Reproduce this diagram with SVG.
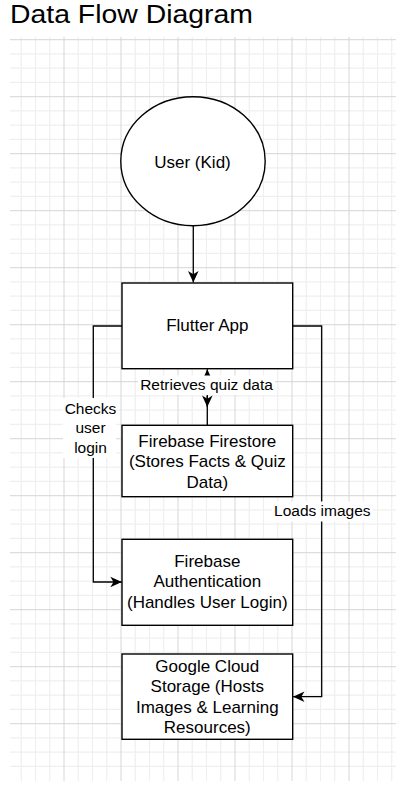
<svg xmlns="http://www.w3.org/2000/svg" width="412" height="795" viewBox="0 0 412 795">
<style>
  .minor { stroke: #efefef; stroke-width: 1.2; fill: none; }
  .major { stroke: #d6d6d6; stroke-width: 1; fill: none; }
  .shape { fill: #ffffff; stroke: #000000; stroke-width: 1.4; }
  .edge { fill: none; stroke: #000000; stroke-width: 1.3; }
  .node-text { font-family: "Liberation Sans", Arial, Helvetica, sans-serif; font-size: 17px; fill: #000000; text-anchor: middle; }
  .edge-text { font-family: "Liberation Sans", Arial, Helvetica, sans-serif; font-size: 15.5px; fill: #000000; text-anchor: middle; }
  .label-bg { fill: #ffffff; stroke: none; }
</style>
<defs>
  <marker id="arrow" viewBox="-12 -6 13 12" refX="0" refY="0" markerWidth="13" markerHeight="12" markerUnits="userSpaceOnUse" orient="auto">
    <path d="M0,0 L-11.5,-5.3 L-8.3,0 L-11.5,5.3 Z" fill="#000000"/>
  </marker>
</defs>
<rect x="0" y="0" width="412" height="795" fill="#ffffff"/>
<g id="title">
  <text x="10" y="23.4" font-family="'Liberation Sans', Arial, Helvetica, sans-serif" font-size="25.5" fill="#000000" textLength="243" lengthAdjust="spacingAndGlyphs">Data Flow Diagram</text>
</g>
<g id="grid">
  <path class="minor" d="M21.25,37V781 M35.5,37V781 M49.75,37V781 M78.25,37V781 M92.5,37V781 M106.75,37V781 M135.25,37V781 M149.5,37V781 M163.75,37V781 M192.25,37V781 M206.5,37V781 M220.75,37V781 M249.25,37V781 M263.5,37V781 M277.75,37V781 M306.25,37V781 M320.5,37V781 M334.75,37V781 M363.25,37V781 M377.5,37V781 M391.75,37V781"/>
  <path class="minor" d="M10,53.95H396 M10,68.2H396 M10,82.45H396 M10,110.95H396 M10,125.2H396 M10,139.45H396 M10,167.95H396 M10,182.2H396 M10,196.45H396 M10,224.95H396 M10,239.2H396 M10,253.45H396 M10,281.95H396 M10,296.2H396 M10,310.45H396 M10,338.95H396 M10,353.2H396 M10,367.45H396 M10,395.95H396 M10,410.2H396 M10,424.45H396 M10,452.95H396 M10,467.2H396 M10,481.45H396 M10,509.95H396 M10,524.2H396 M10,538.45H396 M10,566.95H396 M10,581.2H396 M10,595.45H396 M10,623.95H396 M10,638.2H396 M10,652.45H396 M10,680.95H396 M10,695.2H396 M10,709.45H396 M10,737.95H396 M10,752.2H396 M10,766.45H396"/>
  <path class="major" d="M64,37V781 M121,37V781 M178,37V781 M235,37V781 M292,37V781 M349,37V781"/>
  <path class="major" d="M10,39.7H396 M10,96.7H396 M10,153.7H396 M10,210.7H396 M10,267.7H396 M10,324.7H396 M10,381.7H396 M10,438.7H396 M10,495.7H396 M10,552.7H396 M10,609.7H396 M10,666.7H396 M10,723.7H396"/>
</g>
<g id="connectors">
  <path class="edge" d="M193.3,225.7 L193.3,282.5" marker-end="url(#arrow)"/>
  <path class="edge" d="M207.3,425.3 L207.3,369.3" marker-end="url(#arrow)"/>
  <path class="edge" d="M207.3,396 L207.3,407" marker-end="url(#arrow)"/>
  <path class="edge" d="M122,326 L93.3,326 L93.3,582 L121.8,582" marker-end="url(#arrow)"/>
  <path class="edge" d="M292.7,326 L321.7,326 L321.7,696.7 L293,696.7" marker-end="url(#arrow)"/>
</g>
<g id="edge-labels">
  <rect class="label-bg" x="138" y="375.5" width="137" height="19.5"/>
  <text class="edge-text" x="206.5" y="390">Retrieves quiz data</text>
  <rect class="label-bg" x="63" y="398" width="53" height="60"/>
  <text class="edge-text" x="90.5" y="414">Checks</text>
  <text class="edge-text" x="90.5" y="433.3">user</text>
  <text class="edge-text" x="90.5" y="452.6">login</text>
  <rect class="label-bg" x="272" y="501.5" width="101" height="20"/>
  <text class="edge-text" x="322.3" y="516">Loads images</text>
</g>
<g id="user-kid">
  <ellipse class="shape" cx="193" cy="161.2" rx="72.2" ry="64.5"/>
  <text class="node-text" x="192.5" y="168">User (Kid)</text>
</g>
<g id="flutter-app">
  <rect class="shape" x="122" y="283" width="170.7" height="85.7"/>
  <text class="node-text" x="207.3" y="331">Flutter App</text>
</g>
<g id="firebase-firestore">
  <rect class="shape" x="122" y="425.3" width="170.7" height="71.4"/>
  <text class="node-text" x="207.3" y="446.7">Firebase Firestore</text>
  <text class="node-text" x="207.3" y="467.1">(Stores Facts &amp; Quiz</text>
  <text class="node-text" x="207.3" y="487.5">Data)</text>
</g>
<g id="firebase-authentication">
  <rect class="shape" x="122" y="539.3" width="170.7" height="86"/>
  <text class="node-text" x="207.3" y="567">Firebase</text>
  <text class="node-text" x="207.3" y="587.4">Authentication</text>
  <text class="node-text" x="207.3" y="607.8">(Handles User Login)</text>
</g>
<g id="google-cloud-storage">
  <rect class="shape" x="122" y="654" width="170.7" height="85.3"/>
  <text class="node-text" x="207.3" y="671.7">Google Cloud</text>
  <text class="node-text" x="207.3" y="692.1">Storage (Hosts</text>
  <text class="node-text" x="207.3" y="712.5">Images &amp; Learning</text>
  <text class="node-text" x="207.3" y="732.9">Resources)</text>
</g>
</svg>
